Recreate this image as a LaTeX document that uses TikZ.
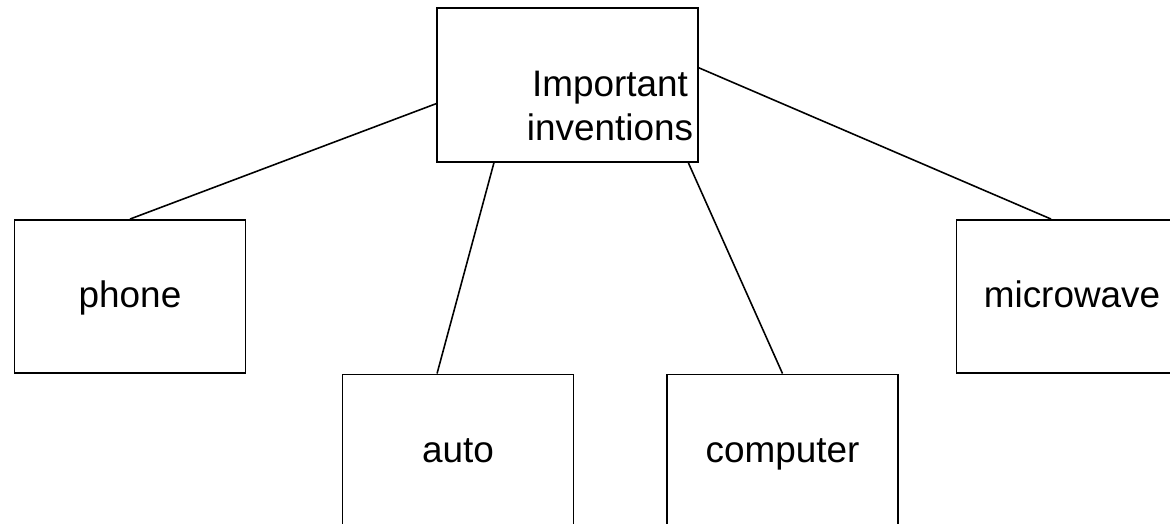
\documentclass[tikz,border=0pt]{standalone}
\usepackage{fontspec}
\setmainfont{Liberation Sans}
\usetikzlibrary{calc}

\tikzset{
  box/.style={draw, line width=1.1pt, minimum width=4.62cm, minimum height=3.06cm,
    inner sep=0pt, text height=15pt, text depth=2pt, font=\fontsize{21}{24.5}\selectfont},
  link/.style={line width=0.9pt}
}

\begin{document}
\begin{tikzpicture}[x=0.02cm, y=-0.02cm]
\useasboundingbox (0,0) rectangle (1170,524);
\clip (0,0) rectangle (1170,524);

% Top box
\node[box, minimum width=5.22cm, minimum height=3.08cm] (top) at (567.5,85) {};
\node[align=center, font=\fontsize{21}{24.5}\selectfont] (toptext) at (610,106) {Important\\inventions};

% The inventions
\node[box] (phone) at (130,296.5) {phone};
\node[box] (auto) at (458,451) {auto};
\node[box] (computer) at (782.5,451) {computer};
\node[box] (microwave) at (1072,296.5) {microwave};

% Connectors
\draw[link] ($(top.north west)!0.62!(top.south west)$) -- (phone.north);
\draw[link] ($(top.south west)!0.22!(top.south east)$) -- ($(auto.north west)!0.41!(auto.north east)$);
\draw[link] ($(top.south west)!0.96!(top.south east)$) -- (computer.north);
\draw[link] ($(top.north east)!0.39!(top.south east)$) -- ($(microwave.north west)!0.41!(microwave.north east)$);

\end{tikzpicture}
\end{document}
